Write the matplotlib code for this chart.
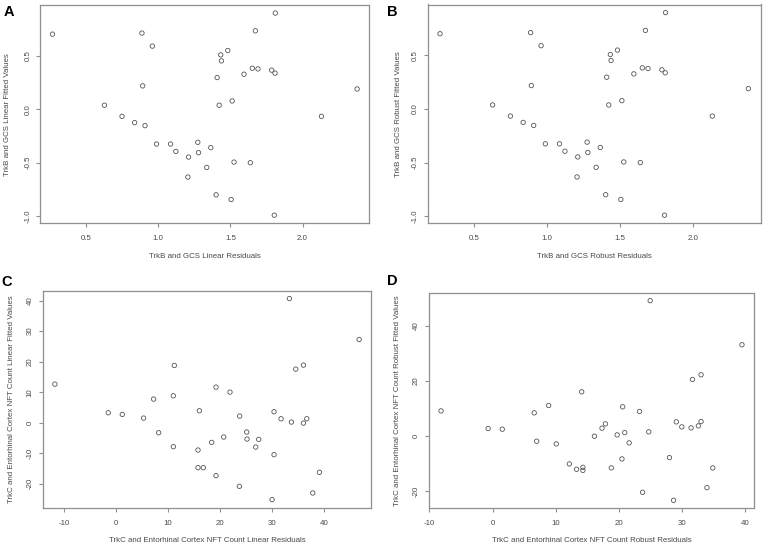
import matplotlib
matplotlib.use("Agg")
import matplotlib.pyplot as plt

plt.rcParams['font.family'] = ['Liberation Sans', 'DejaVu Sans']

# Panel A / B: TrkB and GCS residuals vs fitted values
a_resid = [0.267, 0.887, 0.959, 0.892, 0.627, 0.749, 0.836, 0.908, 0.988, 1.085,
           1.122, 1.210, 1.205, 1.274, 1.279, 1.364, 1.336, 1.401, 1.505, 1.525,
           1.638, 1.804, 1.408, 1.422, 1.512, 1.433, 1.438, 1.482, 1.594, 1.652,
           1.691, 1.673, 1.786, 1.809, 1.811, 2.131, 2.378]
a_fitted = [0.703, 0.713, 0.591, 0.219, 0.038, -0.066, -0.125, -0.153, -0.325, -0.325,
            -0.394, -0.447, -0.634, -0.309, -0.406, -0.359, -0.544, -0.800, -0.844, -0.494,
            -0.500, -0.991, 0.297, 0.038, 0.078, 0.509, 0.453, 0.550, 0.328, 0.384,
            0.378, 0.734, 0.366, 0.338, 0.900, -0.066, 0.190]

b_resid = list(a_resid)
b_fitted = list(a_fitted)

# Panel C: TrkC and Entorhinal Cortex NFT Count, linear
c_resid = [-11.73, -1.47, 1.22, 5.32, 7.24, 8.21, 11.03, 11.03, 11.22, 15.77,
           16.03, 15.77, 16.79, 18.40, 19.23, 19.23, 20.71, 21.92, 23.78, 23.72,
           25.13, 25.19, 27.44, 26.86, 30.00, 30.38, 30.38, 31.73, 33.33, 33.72,
           34.55, 36.03, 36.03, 36.67, 37.82, 39.10, 46.73]
c_fitted = [12.65, 3.27, 2.73, 1.53, 7.74, -3.27, -7.85, 8.83, 18.76, -8.94,
            3.93, -14.72, -14.72, -6.43, 11.67, -17.34, -4.69, 10.03, 2.18, -20.83,
            -3.05, -5.34, -5.45, -7.96, -25.19, 3.60, -10.47, 1.31, 40.68, 0.22,
            17.56, 18.87, -0.11, 1.31, -23.00, -16.25, 27.26]

# Panel D: TrkC and Entorhinal Cortex NFT Count, robust
d_resid = [-8.17, -0.71, 1.53, 6.59, 6.98, 8.88, 10.08, 12.15, 13.30, 14.11,
           14.30, 14.30, 16.13, 17.33, 17.87, 18.80, 19.73, 20.49, 20.60, 20.93,
           21.63, 23.27, 23.76, 24.74, 24.96, 28.01, 28.66, 29.10, 29.97, 31.44,
           31.66, 32.59, 33.02, 33.02, 33.95, 34.88, 39.50]
d_fitted = [9.20, 2.79, 2.55, 8.48, -1.82, 11.15, -2.79, -10.06, -12.00, 16.12,
            -11.30, -12.40, 0.00, 2.91, 4.48, -11.50, 0.48, -8.24, 10.67, 1.33,
            -2.42, 8.97, -20.36, 1.58, 49.20, -7.76, -23.27, 5.21, 3.39, 3.03,
            20.60, 3.76, 5.33, 22.30, -18.67, -11.50, 33.20]

ab_xticks = [0.5, 1.0, 1.5, 2.0]
ab_yticks = [-1.0, -0.5, 0.0, 0.5]
c_xticks = [-10, 0, 10, 20, 30, 40]
c_yticks = [-20, -10, 0, 10, 20, 30, 40]
d_xticks = [-10, 0, 10, 20, 30, 40]
d_yticks = [-20, 0, 20, 40]

W, H = 767, 548
fig = plt.figure(figsize=(W / 100, H / 100), dpi=100)

GRAY_AX = '#8f8f8f'
GRAY_TXT = '#4a4a4a'
PT_COL = '#555555'
FS = 5.7


def px_axes(left, top, right, bottom):
    return fig.add_axes([left / W, (H - bottom) / H, (right - left) / W, (bottom - top) / H])


def panel(box, x, y, xticks, yticks, xlabel, ylabel, fmt, letter, letter_pos,
          xlab_px, ylab_px):
    left, top, right, bottom = box
    ax = px_axes(left, top, right, bottom)
    ax.scatter(x, y, s=10, facecolors='none', edgecolors=PT_COL, linewidths=0.6)
    ax.margins(0.04)
    ax.set_xticks(xticks)
    ax.set_yticks(yticks)
    ax.set_xticklabels([fmt(v) for v in xticks])
    ax.set_yticklabels([fmt(v) for v in yticks], rotation=90, va='center')
    for s in ax.spines.values():
        s.set_color(GRAY_AX)
        s.set_linewidth(0.9)
    ax.tick_params(direction='out', length=3, width=0.8, color=GRAY_AX,
                   labelsize=FS, labelcolor=GRAY_TXT)
    ax.tick_params(axis='x', pad=5.5)
    ax.tick_params(axis='y', pad=3.5)
    ax.set_xlabel(xlabel, fontsize=FS, color=GRAY_TXT, va='center')
    ax.set_ylabel(ylabel, fontsize=FS, color=GRAY_TXT, va='center')
    w = right - left
    h = bottom - top
    ax.xaxis.set_label_coords(0.5, (bottom - xlab_px) / h)
    ax.yaxis.set_label_coords((ylab_px - left) / w, 0.5)
    fig.text(letter_pos[0] / W, 1 - letter_pos[1] / H, letter, fontsize=10.5,
             fontweight='bold', color='black', ha='center', va='center')
    return ax


f1 = lambda v: f"{v:.1f}"
f0 = lambda v: f"{v:d}"

panel((40.3, 5, 369.3, 223.3), a_resid, a_fitted, ab_xticks, ab_yticks,
      'TrkB and GCS Linear Residuals', 'TrkB and GCS Linear Fitted Values',
      f1, 'A', (8.7, 11.5), 256.5, 7.5)
panel((427.7, 4.5, 760.7, 223.3), b_resid, b_fitted, ab_xticks, ab_yticks,
      'TrkB and GCS Robust Residuals', 'TrkB and GCS Robust Fitted Values',
      f1, 'B', (392, 11.5), 257, 398)
panel((42.7, 290.5, 371.3, 507.7), c_resid, c_fitted, c_xticks, c_yticks,
      'TrkC and Entorhinal Cortex NFT Count Linear Residuals',
      'TrkC and Entorhinal Cortex NFT Count Linear Fitted Values',
      f0, 'C', (6.5, 282), 541, 11.5)
panel((429, 292.7, 754, 508.3), d_resid, d_fitted, d_xticks, d_yticks,
      'TrkC and Entorhinal Cortex NFT Count Robust Residuals',
      'TrkC and Entorhinal Cortex NFT Count Robust Fitted Values',
      f0, 'D', (392, 281), 541, 398)

fig.savefig('out.png', dpi=100)
